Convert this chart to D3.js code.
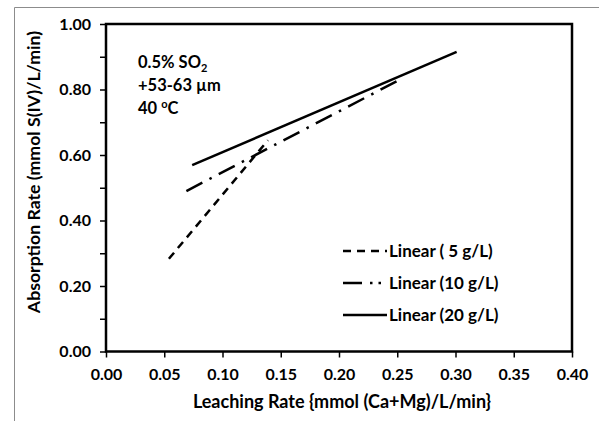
<!DOCTYPE html>
<html>
<head>
<meta charset="utf-8" />
<title></title>
<style>
html, body {
    margin: 0;
    padding: 0;
    background: #fff;
}
svg text {
    font-family: Lato, "Open Sans", sans-serif;
    font-weight: bold;
    fill: #000;
}
</style>
</head>
<body>
<div id="chart"></div>
<script src="https://cdnjs.cloudflare.com/ajax/libs/d3/7.8.5/d3.min.js"></script>
<script>
// trendline end points
var seriesNames = ["Linear ( 5 g/L)", "Linear (10 g/L)", "Linear (20 g/L)"]
var leach5  = [0.054, 0.139]
var absorb5 = [0.283, 0.645]
var leach10  = [0.069, 0.250]
var absorb10 = [0.490, 0.826]
var leach20  = [0.074, 0.301]
var absorb20 = [0.569, 0.915]
var xTicks = [0, 0.05, 0.10, 0.15, 0.20, 0.25, 0.30, 0.35, 0.40]
var yTicks = [0, 0.1, 0.2, 0.3, 0.4, 0.5, 0.6, 0.7, 0.8, 0.9, 1.0]

var W = 599, H = 421
var dashes = ["8,6", "18,8,2.5,8", null]
// legend sample is too short for the full pattern, so it gets its own
var legendDashes = ["8,6", "19,8,2.5,6,2.5,20", null]

var series = [
    {name: seriesNames[0], x: leach5, y: absorb5, dash: dashes[0], ldash: legendDashes[0]},
    {name: seriesNames[1], x: leach10, y: absorb10, dash: dashes[1], ldash: legendDashes[1]},
    {name: seriesNames[2], x: leach20, y: absorb20, dash: dashes[2], ldash: legendDashes[2]}
]

var svg = d3.select("#chart").append("svg")
    .attr("width", W)
    .attr("height", H)

// outer chart frame (only top and left show)
svg.append("path")
    .attr("d", "M14.5," + H + "V7.5H" + W)
    .attr("fill", "none")
    .attr("stroke", "#8c8c8c")
    .attr("stroke-width", 1)

var x = d3.scaleLinear().domain([0, 0.4]).range([106, 572])
var y = d3.scaleLinear().domain([0, 1]).range([351.5, 24])

var xAxis = svg.append("g")
    .attr("transform", "translate(0," + y(0) + ")")
    .call(d3.axisBottom(x).tickValues(xTicks).tickSize(6).tickFormat(d3.format(".2f")))
var yAxis = svg.append("g")
    .attr("transform", "translate(" + x(0) + ",0)")
    .call(d3.axisLeft(y).tickValues(yTicks).tickSize(6)
        .tickFormat(function(d) { return Math.round(d * 10) % 2 == 0 ? d3.format(".2f")(d) : "" }))

svg.selectAll(".domain").remove()
svg.selectAll(".tick line").attr("stroke", "#000").attr("stroke-width", 1.5)
xAxis.selectAll(".tick text").attr("font-size", 16).attr("y", 17).attr("dy", "0.71em")
yAxis.selectAll(".tick text").attr("font-size", 16).attr("x", -15)

// plot frame
svg.append("rect")
    .attr("x", x(0))
    .attr("y", y(1))
    .attr("width", x(0.4) - x(0))
    .attr("height", y(0) - y(1))
    .attr("fill", "none")
    .attr("stroke", "#000")
    .attr("stroke-width", 2.5)

var line = d3.line()
    .x(function(d) { return x(d[0]) })
    .y(function(d) { return y(d[1]) })

svg.selectAll(".trend")
    .data(series)
    .enter()
    .append("path")
    .attr("class", "trend")
    .attr("d", function(s) { return line(d3.zip(s.x, s.y)) })
    .attr("fill", "none")
    .attr("stroke", "#000")
    .attr("stroke-width", 2.5)
    .attr("stroke-dasharray", function(s) { return s.dash })

// legend
var legend = svg.selectAll(".legend")
    .data(series)
    .enter()
    .append("g")
    .attr("class", "legend")
    .attr("transform", function(s, i) { return "translate(343," + (251 + i * 32) + ")" })
legend.append("line")
    .attr("x1", 0).attr("x2", 44)
    .attr("stroke", "#000")
    .attr("stroke-width", 2.5)
    .attr("stroke-dasharray", function(s) { return s.ldash })
legend.append("text")
    .attr("x", 46)
    .attr("dy", "0.35em")
    .attr("font-size", 17)
    .text(function(s) { return s.name })

// note
var note = svg.append("text")
    .attr("x", 138)
    .attr("y", 68)
    .attr("font-size", 16.5)
note.append("tspan").text("0.5% SO")
note.append("tspan").attr("font-size", 11).attr("dy", 4).text("2")
svg.append("text").attr("x", 138).attr("y", 91).attr("font-size", 16.5).text("+53-63 \u00b5m")
var t3 = svg.append("text").attr("x", 138).attr("y", 114).attr("font-size", 16.5)
t3.append("tspan").text("40 ")
t3.append("tspan").attr("font-size", 11).attr("dy", -6).text("o")
t3.append("tspan").attr("dy", 6).text("C")

// axis titles
svg.append("text")
    .attr("x", 342)
    .attr("y", 408)
    .attr("text-anchor", "middle")
    .attr("font-size", 18)
    .text("Leaching Rate {mmol (Ca+Mg)/L/min}")
svg.append("text")
    .attr("transform", "translate(40,172) rotate(-90)")
    .attr("text-anchor", "middle")
    .attr("font-size", 17.7)
    .text("Absorption Rate (mmol S(IV)/L/min)")
</script>
</body>
</html>
